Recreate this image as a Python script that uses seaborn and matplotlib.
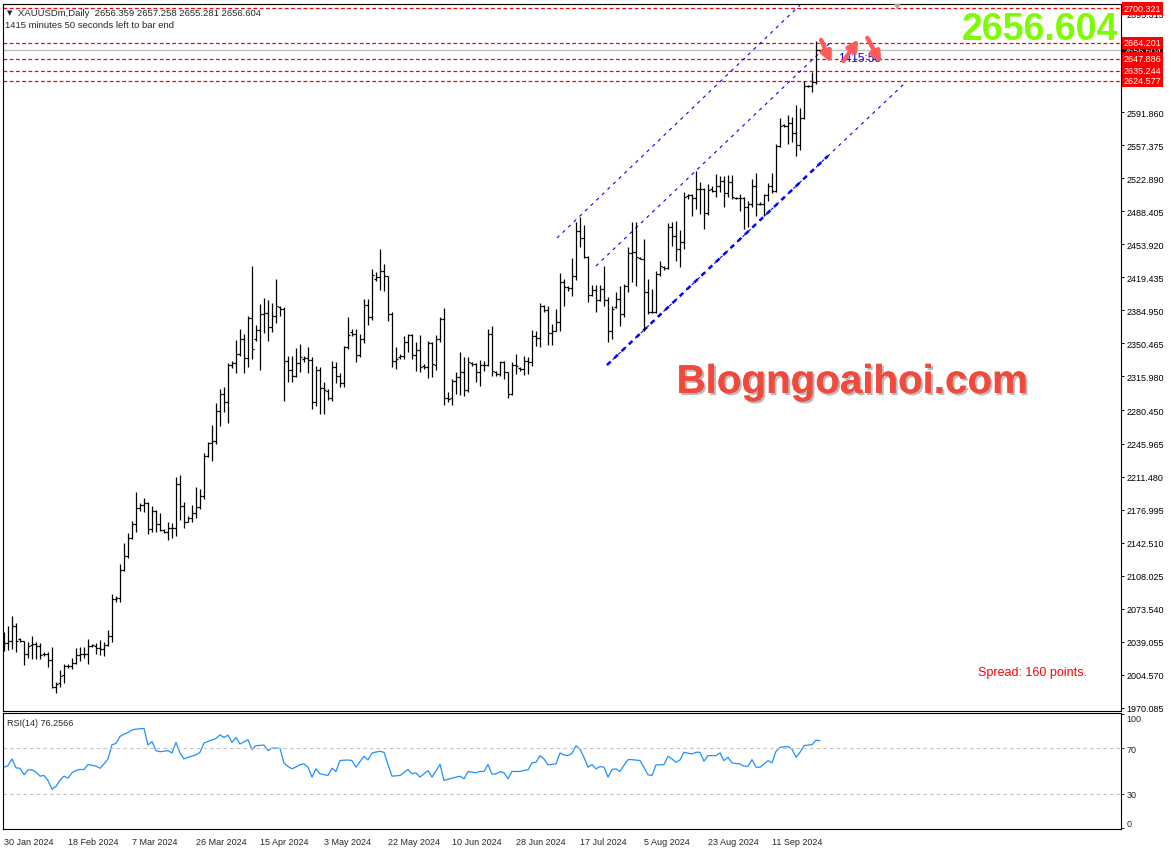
import numpy as np
import pandas as pd
import matplotlib
import matplotlib.pyplot as plt
import matplotlib.patheffects as pe
import matplotlib.transforms as mtransforms
import seaborn as sns

matplotlib.use("Agg")

# daily bars (MT5 XAUUSDm, Sunday bars included)
opens = [2036.6, 2037.7, 2040.1, 2055.1, 2041.9, 2039.4, 2025.9, 2035.6, 2036.6, 2034.9,
         2026.2, 2025.9, 2019.9, 1991.4, 1995.6, 2004.3, 2013.3, 2014.0, 2017.0, 2025.2,
         2025.9, 2025.9, 2034.9, 2034.9, 2032.1, 2031.4, 2035.6, 2044.6, 2083.6, 2084.3,
         2114.2, 2128.2, 2147.0, 2161.6, 2178.3, 2181.8, 2183.8, 2156.7, 2175.5, 2161.6,
         2156.0, 2153.9, 2157.4, 2157.4, 2203.7, 2181.1, 2164.4, 2168.5, 2173.1, 2179.3,
         2190.8, 2233.0, 2246.0, 2248.6, 2279.5, 2297.6, 2288.9, 2328.0, 2330.0, 2339.3,
         2355.0, 2335.2, 2376.6, 2355.0, 2364.7, 2380.8, 2382.1, 2367.2, 2379.4, 2388.1,
         2386.3, 2332.4, 2322.6, 2316.0, 2329.9, 2334.0, 2334.8, 2333.4, 2289.6, 2323.0,
         2303.5, 2301.0, 2293.1, 2325.4, 2316.0, 2309.1, 2346.3, 2362.0, 2360.2, 2338.3,
         2355.0, 2390.8, 2377.6, 2418.0, 2420.1, 2425.6, 2420.4, 2381.1, 2331.7, 2336.0,
         2336.9, 2351.5, 2359.2, 2338.3, 2343.5, 2327.0, 2326.0, 2351.0, 2328.0, 2355.0,
         2376.0, 2293.0, 2293.0, 2311.2, 2315.0, 2320.3, 2302.2, 2330.0, 2329.0, 2321.0,
         2327.9, 2328.3, 2360.3, 2321.0, 2319.0, 2330.7, 2320.3, 2297.6, 2327.9, 2325.0,
         2324.0, 2332.4, 2330.7, 2358.5, 2356.6, 2389.0, 2385.3, 2361.3, 2363.8, 2372.5,
         2414.9, 2409.0, 2407.9, 2421.2, 2468.0, 2460.2, 2440.3, 2401.3, 2406.0, 2396.1,
         2407.3, 2396.1, 2363.8, 2388.0, 2396.8, 2381.2, 2410.0, 2444.8, 2446.0, 2440.0,
         2439.0, 2403.8, 2382.9, 2383.6, 2423.0, 2430.0, 2429.0, 2472.0, 2462.9, 2449.0,
         2456.0, 2504.0, 2505.4, 2501.9, 2511.7, 2511.7, 2486.6, 2512.0, 2510.0, 2515.1,
         2520.0, 2507.5, 2518.6, 2502.0, 2502.5, 2501.9, 2492.5, 2496.0, 2515.1, 2496.0,
         2496.5, 2505.7, 2515.1, 2509.9, 2556.9, 2578.0, 2577.8, 2581.0, 2570.0, 2557.6,
         2585.4, 2619.0, 2618.8, 2623.7, 2656.359]
highs = [2049.5, 2055.8, 2065.5, 2058.2, 2043.2, 2040.1, 2039.1, 2044.6, 2039.1, 2037.7,
         2028.6, 2027.9, 2033.2, 1996.6, 2009.5, 2015.8, 2015.8, 2022.0, 2032.1, 2033.9,
         2033.2, 2041.9, 2036.6, 2037.3, 2040.8, 2038.4, 2051.6, 2088.8, 2086.4, 2120.2,
         2142.1, 2152.5, 2165.4, 2195.0, 2183.8, 2189.1, 2184.5, 2180.4, 2176.9, 2173.1,
         2156.7, 2163.7, 2163.0, 2210.6, 2213.1, 2185.2, 2169.9, 2181.8, 2200.2, 2198.5,
         2236.0, 2247.2, 2265.3, 2288.2, 2302.8, 2304.5, 2329.9, 2332.0, 2354.0, 2365.4,
         2360.2, 2378.7, 2431.6, 2369.6, 2391.5, 2397.5, 2395.7, 2392.6, 2417.6, 2389.0,
         2388.0, 2336.9, 2337.6, 2345.3, 2349.8, 2337.6, 2346.3, 2336.0, 2326.5, 2326.0,
         2310.0, 2302.8, 2332.4, 2330.6, 2319.2, 2348.0, 2377.6, 2365.4, 2365.4, 2360.0,
         2396.8, 2396.8, 2428.1, 2425.3, 2449.0, 2433.3, 2421.1, 2383.5, 2346.3, 2339.3,
         2358.5, 2360.2, 2360.2, 2351.5, 2359.2, 2329.0, 2353.3, 2352.0, 2359.0, 2378.4,
         2387.0, 2299.4, 2313.3, 2320.3, 2341.1, 2335.9, 2335.9, 2331.4, 2329.5, 2333.1,
         2332.4, 2365.5, 2369.0, 2322.0, 2332.4, 2331.7, 2321.0, 2331.4, 2339.4, 2325.5,
         2337.7, 2335.9, 2364.8, 2363.8, 2392.6, 2390.6, 2389.9, 2370.7, 2386.4, 2423.6,
         2417.7, 2410.7, 2439.3, 2476.9, 2482.1, 2474.1, 2442.0, 2411.4, 2411.4, 2411.4,
         2430.9, 2398.6, 2389.9, 2403.8, 2410.7, 2413.0, 2450.8, 2476.9, 2477.6, 2441.0,
         2459.5, 2417.7, 2407.3, 2426.4, 2437.0, 2431.6, 2475.8, 2477.6, 2478.6, 2468.9,
         2508.2, 2506.4, 2506.4, 2530.8, 2518.6, 2512.4, 2516.9, 2515.1, 2527.3, 2525.6,
         2525.6, 2526.6, 2526.3, 2503.5, 2506.4, 2503.0, 2499.5, 2522.1, 2528.4, 2497.7,
         2506.4, 2517.9, 2528.4, 2558.6, 2585.4, 2579.5, 2588.9, 2586.5, 2599.4, 2595.9,
         2624.8, 2620.2, 2633.5, 2666.0, 2657.258]
lows = [2029.7, 2030.7, 2031.4, 2027.9, 2038.4, 2015.1, 2022.4, 2021.0, 2021.0, 2021.0,
        2024.5, 2012.3, 1990.4, 1985.1, 1991.4, 1995.9, 2011.9, 2010.5, 2015.8, 2019.2,
        2021.7, 2015.8, 2033.9, 2025.9, 2025.2, 2024.5, 2034.9, 2038.4, 2080.1, 2080.0,
        2113.0, 2126.5, 2146.3, 2153.2, 2175.8, 2174.8, 2151.1, 2153.2, 2153.2, 2155.0,
        2152.5, 2145.6, 2147.7, 2149.7, 2166.4, 2157.4, 2164.4, 2164.4, 2167.8, 2177.6,
        2188.0, 2232.0, 2228.0, 2245.0, 2264.5, 2279.1, 2267.3, 2325.0, 2319.2, 2336.9,
        2319.2, 2325.4, 2334.1, 2353.3, 2323.0, 2360.9, 2353.3, 2362.7, 2372.0, 2379.4,
        2290.6, 2310.5, 2310.5, 2315.0, 2320.2, 2331.3, 2319.2, 2281.9, 2285.4, 2276.7,
        2276.7, 2291.7, 2290.6, 2309.1, 2304.5, 2305.0, 2344.6, 2358.5, 2331.3, 2336.0,
        2350.8, 2370.0, 2375.0, 2415.9, 2406.5, 2404.8, 2374.1, 2325.4, 2323.7, 2334.1,
        2334.0, 2341.1, 2334.1, 2321.9, 2321.0, 2323.7, 2314.0, 2315.0, 2323.0, 2351.6,
        2286.2, 2289.6, 2286.2, 2297.6, 2296.6, 2295.2, 2299.4, 2327.2, 2310.5, 2305.6,
        2322.0, 2327.2, 2316.8, 2316.8, 2316.8, 2313.0, 2293.1, 2297.0, 2318.5, 2322.0,
        2317.8, 2318.5, 2326.5, 2348.1, 2346.4, 2383.6, 2348.8, 2348.8, 2363.0, 2363.8,
        2389.2, 2405.5, 2400.3, 2417.0, 2450.8, 2439.3, 2393.3, 2400.0, 2382.9, 2395.1,
        2389.9, 2352.3, 2355.1, 2387.1, 2369.0, 2378.0, 2403.8, 2414.2, 2410.0, 2438.6,
        2363.8, 2381.2, 2382.0, 2382.0, 2421.0, 2427.4, 2428.1, 2452.5, 2436.8, 2429.9,
        2449.0, 2501.2, 2483.8, 2490.8, 2485.6, 2469.9, 2484.0, 2508.2, 2503.0, 2508.2,
        2492.5, 2503.0, 2501.2, 2501.2, 2489.0, 2469.9, 2471.6, 2493.0, 2483.8, 2495.0,
        2483.8, 2499.5, 2507.5, 2508.9, 2556.0, 2576.0, 2558.6, 2560.4, 2545.8, 2552.0,
        2584.7, 2617.8, 2612.6, 2621.3, 2655.281]
closes = [2037.7, 2040.1, 2055.1, 2040.1, 2040.1, 2025.9, 2034.9, 2036.6, 2034.9, 2025.2,
          2025.9, 2019.9, 1991.4, 1994.9, 2003.6, 2013.3, 2014.0, 2017.0, 2025.2, 2025.9,
          2025.9, 2034.9, 2035.6, 2032.1, 2031.4, 2035.6, 2044.6, 2083.6, 2084.3, 2114.2,
          2128.2, 2147.0, 2161.6, 2178.3, 2181.8, 2183.8, 2156.7, 2175.5, 2161.6, 2156.0,
          2153.9, 2157.4, 2157.4, 2203.7, 2181.1, 2164.4, 2168.5, 2173.1, 2179.3, 2190.8,
          2232.6, 2246.0, 2248.6, 2279.5, 2297.6, 2288.9, 2327.9, 2330.0, 2339.3, 2355.0,
          2335.2, 2376.6, 2344.6, 2364.7, 2380.8, 2382.1, 2367.2, 2379.4, 2390.0, 2386.3,
          2332.4, 2322.6, 2316.0, 2329.9, 2335.9, 2334.8, 2333.4, 2289.6, 2323.0, 2303.5,
          2302.1, 2293.1, 2325.4, 2316.0, 2309.1, 2346.3, 2359.2, 2360.2, 2338.3, 2355.0,
          2390.8, 2377.6, 2421.8, 2420.1, 2425.6, 2420.4, 2381.1, 2331.7, 2334.1, 2336.9,
          2351.5, 2359.2, 2338.3, 2343.5, 2325.5, 2326.0, 2351.0, 2329.0, 2355.0, 2376.0,
          2293.1, 2292.4, 2311.2, 2315.0, 2320.3, 2302.2, 2331.4, 2329.0, 2321.0, 2327.9,
          2328.3, 2360.3, 2322.0, 2319.0, 2330.7, 2320.3, 2297.6, 2327.9, 2327.2, 2324.0,
          2332.4, 2330.7, 2358.5, 2356.6, 2389.9, 2385.3, 2361.3, 2363.8, 2372.5, 2414.9,
          2409.0, 2407.9, 2421.2, 2468.0, 2460.2, 2440.3, 2401.3, 2406.0, 2396.1, 2407.3,
          2396.1, 2363.8, 2386.4, 2396.8, 2381.2, 2410.0, 2444.8, 2446.0, 2440.3, 2439.0,
          2403.8, 2382.9, 2383.6, 2422.9, 2431.0, 2429.0, 2472.0, 2462.9, 2449.0, 2456.0,
          2503.0, 2505.4, 2501.9, 2511.7, 2511.7, 2486.6, 2511.0, 2510.0, 2515.1, 2520.0,
          2507.5, 2518.6, 2503.0, 2502.5, 2501.9, 2492.5, 2496.0, 2515.1, 2496.0, 2496.5,
          2505.7, 2515.1, 2509.9, 2556.9, 2577.8, 2577.8, 2581.0, 2570.0, 2557.6, 2585.4,
          2619.5, 2618.8, 2623.7, 2656.9, 2656.604]
rsi = [53.3, 54.7, 60.5, 52.7, 52.4, 46.7, 51.0, 51.0, 49.0, 45.5,
       46.1, 41.8, 34.0, 36.6, 42.0, 45.5, 43.8, 48.4, 50.5, 51.3,
       51.3, 55.6, 55.0, 54.2, 52.4, 56.2, 60.5, 72.9, 74.0, 80.1,
       82.0, 83.5, 85.8, 86.4, 86.8, 87.0, 72.6, 75.5, 67.7, 66.8,
       67.2, 67.7, 65.7, 74.9, 65.7, 60.5, 61.9, 63.0, 64.0, 66.3,
       74.3, 75.8, 77.0, 78.3, 81.5, 79.2, 81.2, 74.9, 79.2, 73.5,
       75.5, 77.2, 68.6, 72.0, 72.3, 72.6, 67.7, 70.0, 69.8, 69.7,
       56.8, 54.0, 51.9, 53.5, 55.6, 56.2, 53.3, 44.7, 51.9, 47.6,
       46.8, 46.1, 52.4, 49.6, 59.1, 59.4, 59.6, 59.1, 53.3, 58.2,
       62.8, 59.6, 65.7, 66.5, 67.1, 66.3, 55.6, 45.5, 45.8, 46.1,
       48.7, 51.3, 47.6, 48.4, 44.7, 47.5, 50.4, 44.7, 50.0, 55.9,
       41.8, 42.8, 43.8, 44.6, 45.5, 43.2, 49.6, 49.0, 48.4, 49.6,
       49.6, 55.6, 47.3, 47.5, 49.6, 48.4, 43.2, 49.6, 49.6, 49.6,
       50.5, 51.0, 57.1, 57.6, 63.4, 60.5, 55.3, 55.8, 56.2, 65.7,
       64.0, 63.4, 65.4, 72.0, 69.0, 61.9, 53.3, 55.6, 51.9, 53.9,
       53.3, 44.7, 51.3, 51.9, 49.6, 55.0, 59.9, 59.9, 59.5, 59.1,
       53.0, 46.7, 46.1, 55.3, 55.4, 55.6, 62.8, 60.5, 57.6, 59.6,
       66.3, 65.5, 64.8, 66.3, 66.3, 58.5, 63.4, 63.4, 63.4, 65.7,
       59.1, 61.9, 57.1, 56.5, 56.2, 54.2, 54.2, 59.9, 53.3, 53.3,
       56.0, 59.1, 57.1, 67.1, 70.6, 71.0, 71.2, 69.1, 61.9, 66.3,
       72.0, 72.6, 72.9, 76.9, 76.2566]

date_ticks = [0, 16, 32, 48, 64, 80, 96, 112, 128, 144, 160, 176, 192]
date_labels = ["30 Jan 2024", "18 Feb 2024", "7 Mar 2024", "26 Mar 2024", "15 Apr 2024",
               "3 May 2024", "22 May 2024", "10 Jun 2024", "28 Jun 2024", "17 Jul 2024",
               "5 Aug 2024", "23 Aug 2024", "11 Sep 2024"]
price_ticks = [1970.085, 2004.570, 2039.055, 2073.540, 2108.025, 2142.510, 2176.995,
               2211.480, 2245.965, 2280.450, 2315.980, 2350.465, 2384.950, 2419.435,
               2453.920, 2488.405, 2522.890, 2557.375, 2591.860, 2695.315]
rsi_ticks = [0, 30, 70, 100]
level_prices = [2700.321, 2664.201, 2647.886, 2635.244, 2624.577]
bid_price = 2656.604

# trend channel drawn on the chart: (bar, price) end points
chan_upper = ([138.25, 199.0], [2460.5, 2703.7])
chan_mid = ([148.0, 207.0], [2431.3, 2666.2])
chan_low = ([150.75, 225.25], [2327.9, 2622.3])
# hand drawn arrows: (start bar, start price, end bar, end price)
arrows = [(204.0, 2670.0, 207.0, 2641.0),
          (209.5, 2643.0, 214.0, 2670.0),
          (215.5, 2672.0, 219.5, 2641.0)]

df = pd.DataFrame({"bar": np.arange(len(closes)), "open": opens, "high": highs,
                   "low": lows, "close": closes, "rsi": rsi})

sns.set_theme(style="white")
plt.rcParams["font.family"] = ["Liberation Sans", "DejaVu Sans"]

W, H = 1172, 854
fig = plt.figure(figsize=(W / 100, H / 100), dpi=100)
ax = fig.add_axes([3 / W, 1 - 712 / H, 1118 / W, 707 / H])
ax_rsi = fig.add_axes([3 / W, 1 - 830 / H, 1118 / W, 116 / H], sharex=ax)

# OHLC bars
ax.vlines(df["bar"], df["low"], df["high"], color="black", lw=0.9, zorder=3)
ax.hlines(df["open"], df["bar"] - 0.45, df["bar"], color="black", lw=0.9, zorder=3)
ax.hlines(df["close"], df["bar"], df["bar"] + 0.45, color="black", lw=0.9, zorder=3)

for p in level_prices:
    ax.axhline(p, color="red", ls=(0, (3, 2)), lw=0.9, zorder=2)
ax.axhline(bid_price, color="#C0C0C0", lw=1, zorder=1)

ax.plot(*chan_upper, color="blue", ls=(0, (3, 4)), lw=0.8)
ax.plot(*chan_mid, color="blue", ls=(0, (3, 4)), lw=0.8)
ax.plot(*chan_low, color="blue", ls=(0, (3, 4)), lw=0.8)
x_thick = [chan_low[0][0], 206]
ax.plot(x_thick, np.interp(x_thick, *chan_low), color="blue", ls=(0, (2, 2)), lw=1.8)

ax.text(208.5, 2648.0, "1415:50", color="blue", fontsize=8.5, va="center", zorder=5)
for x0, y0, x1, y1 in arrows:
    ax.annotate("", xy=(x1, y1), xytext=(x0, y0),
                arrowprops=dict(arrowstyle="-|>", color="#FF5A5A", lw=3, mutation_scale=15,
                                alpha=0.85,
                                path_effects=[pe.withSimplePatchShadow(offset=(2, -2),
                                                                       shadow_rgbFace="#999999",
                                                                       alpha=0.6),
                                              pe.Normal()]),
                zorder=6)

ax.set_xlim(-0.25, 279.25)
ax.set_ylim(1966.7, 2704.8)
ax.set_yticks(price_ticks)
ax.set_yticklabels([f"{t:.3f}" for t in price_ticks])
ax.yaxis.tick_right()
ax.tick_params(axis="y", direction="out", length=2.5, width=0.7, pad=1.5, labelsize=6.5,
               colors="black")
ax.tick_params(axis="x", bottom=False, labelbottom=False)

trans = mtransforms.blended_transform_factory(ax.transAxes, ax.transData)
ax.text(1.0025, bid_price, f"{bid_price:.3f}", transform=trans, fontsize=6.5, color="white",
        va="center", ha="left", clip_on=False, zorder=7,
        bbox=dict(boxstyle="square,pad=0.2", fc="black", ec="none"))
for p in level_prices:
    ax.text(1.0025, p, f"{p:.3f}", transform=trans, fontsize=6.5, color="white",
            va="center", ha="left", clip_on=False, zorder=8,
            bbox=dict(boxstyle="square,pad=0.2", fc="red", ec="none"))

# RSI window
sns.lineplot(data=df, x="bar", y="rsi", ax=ax_rsi, color="#1E90FF", lw=0.9)
ax_rsi.axhline(70, color="#C0C0C0", ls=(0, (3, 3)), lw=0.8)
ax_rsi.axhline(30, color="#C0C0C0", ls=(0, (3, 3)), lw=0.8)
ax_rsi.set_ylim(-0.5, 100.5)
ax_rsi.set_yticks(rsi_ticks)
ax_rsi.set_yticklabels([str(t) for t in rsi_ticks])
ax_rsi.yaxis.tick_right()
ax_rsi.tick_params(axis="y", direction="out", length=2.5, width=0.7, pad=1.5, labelsize=6.5)
ax_rsi.get_yticklabels()[0].set_va("bottom")
ax_rsi.get_yticklabels()[-1].set_va("top")
ax_rsi.set_xticks(date_ticks)
ax_rsi.set_xticklabels(date_labels, ha="left")
ax_rsi.tick_params(axis="x", direction="out", length=4, width=0.7, pad=1.5, labelsize=6.5)
ax_rsi.set_xlabel("")
ax_rsi.set_ylabel("")
ax_rsi.set_xlim(-0.25, 279.25)
ax_rsi.text(0.004, 0.92, f"RSI(14) {rsi[-1]:.4f}", transform=ax_rsi.transAxes, fontsize=6.5,
            va="center")

for a in (ax, ax_rsi):
    for s in a.spines.values():
        s.set_color("black")
        s.set_linewidth(0.8)

fig.text(7 / W, 1 - 13 / H, "\u25bc", fontsize=5, va="center", family=["DejaVu Sans"])
fig.text(18 / W, 1 - 13 / H, "XAUUSDm,Daily  2656.359 2657.258 2655.281 2656.604",
         fontsize=6.8, va="center")
fig.text(5 / W, 1 - 26 / H, "1415 minutes 50 seconds left to bar end", fontsize=6.8, va="center")
fig.text(897 / W, 1 - 7 / H, "\u25bc", fontsize=6, color="#A8A8A8", ha="center", va="center",
         family=["DejaVu Sans"])
fig.text(1118 / W, 1 - 30 / H, "2656.604", fontsize=27, color="#7CFC00", weight="bold",
         ha="right", va="center")
fig.text(852 / W, 1 - 383 / H, "Blogngoaihoi.com", fontsize=29, weight="bold", color="#EF4A3C",
         ha="center", va="center",
         path_effects=[pe.withSimplePatchShadow(offset=(1.5, -1.5), shadow_rgbFace="#777777",
                                                alpha=0.5), pe.Normal()])
fig.text(978 / W, 1 - 673 / H, "Spread: 160 points.", fontsize=9, color="red", va="center")

fig.savefig("out.png", dpi=100)
